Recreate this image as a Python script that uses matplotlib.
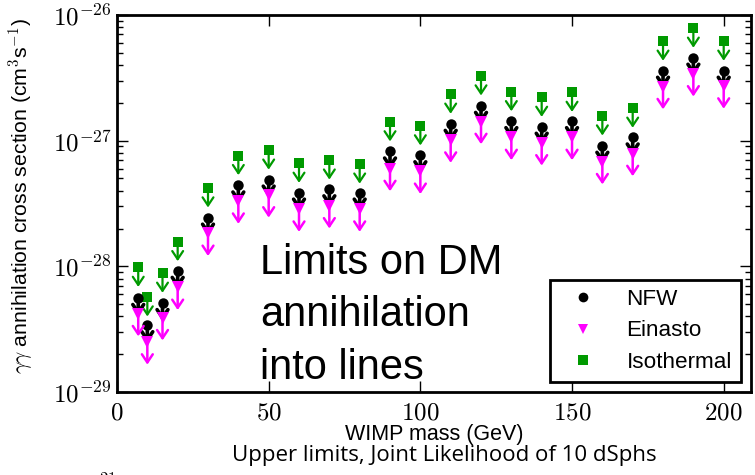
import matplotlib
matplotlib.use('Agg')
import matplotlib.pyplot as plt
from matplotlib.lines import Line2D
from matplotlib.ticker import FixedLocator, FuncFormatter, LogLocator, NullFormatter
import numpy as np

plt.rcParams['font.family'] = ['Liberation Sans', 'DejaVu Sans']
plt.rcParams['mathtext.fontset'] = 'cm'

# WIMP masses (GeV) and upper limits (cm^3 s^-1)
mass = [7, 10, 15, 20, 30, 40, 50, 60, 70, 80, 90, 100, 110, 120, 130, 140, 150, 160, 170, 180, 190, 200]
nfw = [5.6e-29, 3.4e-29, 5.1e-29, 9.2e-29, 2.44e-28, 4.4e-28, 4.9e-28, 3.86e-28, 4.1e-28, 3.86e-28, 8.2e-28,
       7.65e-28, 1.36e-27, 1.89e-27, 1.43e-27, 1.29e-27, 1.43e-27, 9.1e-28, 1.06e-27, 3.6e-27, 4.57e-27, 3.6e-27]
einasto = [4.2e-29, 2.5e-29, 3.9e-29, 6.8e-29, 1.83e-28, 3.3e-28, 3.7e-28, 2.85e-28, 3.03e-28, 2.85e-28, 6.0e-28,
           5.7e-28, 1.01e-27, 1.42e-27, 1.06e-27, 9.6e-28, 1.06e-27, 6.8e-28, 7.9e-28, 2.69e-27, 3.4e-27, 2.72e-27]
isothermal = [9.8e-29, 5.7e-29, 8.8e-29, 1.57e-28, 4.2e-28, 7.6e-28, 8.4e-28, 6.6e-28, 7.0e-28, 6.5e-28, 1.41e-27,
              1.31e-27, 2.34e-27, 3.27e-27, 2.45e-27, 2.21e-27, 2.42e-27, 1.57e-27, 1.81e-27, 6.18e-27, 7.84e-27, 6.18e-27]

labels = ['NFW', 'Einasto', 'Isothermal']
x_ticks = [0, 50, 100, 150, 200]

green = '#009a00'
magenta = '#ff00ff'

fig = plt.figure(figsize=(7.55, 4.75), dpi=100)
ax = fig.add_axes([117/755, 83/475, 634/755, 377/475])
ax.set_yscale('log')

# series: (values, colour, marker, arrow drop factor, arrow width)
series = [
    (isothermal, green, 's', 0.70, 1.6),
    (nfw, 'black', 'o', 0.72, 2.6),
    (einasto, magenta, 'v', 0.66, 1.8),
]
for z, (vals, col, mk, drop, lw) in enumerate(series):
    for xv, yv in zip(mass, vals):
        ax.annotate('', xy=(xv, yv * drop), xytext=(xv, yv),
                    arrowprops=dict(arrowstyle='->,head_length=0.45,head_width=0.3', color=col, lw=lw,
                                    shrinkA=0, shrinkB=0, mutation_scale=13),
                    zorder=2 + 2 * z, annotation_clip=False)
    ax.plot(mass, vals, linestyle='none', marker=mk, color=col, markersize=8 if mk == 'v' else 7.5,
            markeredgewidth=0, zorder=3 + 2 * z)

ax.set_xlim(0, 209)
ax.set_ylim(1e-29, 1e-26)

ax.xaxis.set_major_locator(FixedLocator(x_ticks))
ax.xaxis.set_major_formatter(FuncFormatter(lambda v, p: r'$%d$' % v))
ax.yaxis.set_major_locator(LogLocator(base=10, numticks=10))
ax.yaxis.set_minor_locator(LogLocator(base=10, subs=np.arange(2, 10), numticks=10))
ax.yaxis.set_major_formatter(FuncFormatter(lambda v, p: r'$10^{%d}$' % round(np.log10(v))))
ax.yaxis.set_minor_formatter(NullFormatter())

ax.tick_params(which='both', direction='in', top=True, right=True, labelsize=18, width=1)
ax.tick_params(which='major', length=8)
ax.tick_params(which='minor', length=4)
ax.tick_params(axis='x', pad=6)
ax.tick_params(axis='y', pad=4)
for s in ax.spines.values():
    s.set_linewidth(2)

ax.set_xlabel('WIMP mass (GeV)', fontsize=15.5, va='top')
ax.xaxis.set_label_coords(0.5, -0.086)
ax.set_ylabel(r'$\gamma\gamma$ annihilation cross section (cm$^{\mathsf{3}}$s$^{-\mathsf{1}}$)', fontsize=15.3)
ax.yaxis.set_label_coords(-0.13, 0.52)

ax.text(0.2256, 0.395, 'Limits on DM\nannihilation\ninto lines', transform=ax.transAxes,
        fontsize=30, va='top', ha='left', linespacing=1.4)

handles = [Line2D([], [], linestyle='none', marker=mk, color=col, markersize=7, markeredgewidth=0)
           for (_, col, mk, _, _) in [series[1], series[2], series[0]]]
leg = ax.legend(handles, labels, loc='lower right', bbox_to_anchor=(0.984, 0.0265), borderaxespad=0,
                fontsize=16.2, fancybox=False, edgecolor='black', framealpha=1, handlelength=2.13,
                handletextpad=0.85, labelspacing=0.47, borderpad=0.4, numpoints=1)
leg.get_frame().set_linewidth(2)

fig.text(444/755, 14/475, 'Upper limits, Joint Likelihood of 10 dSphs', ha='center', va='baseline',
         fontsize=16, family='Open Sans')
fig.text(75/755, 2/475, r'$10^{21}$', ha='left', va='top', fontsize=17)

fig.savefig('out.png', dpi=100)
